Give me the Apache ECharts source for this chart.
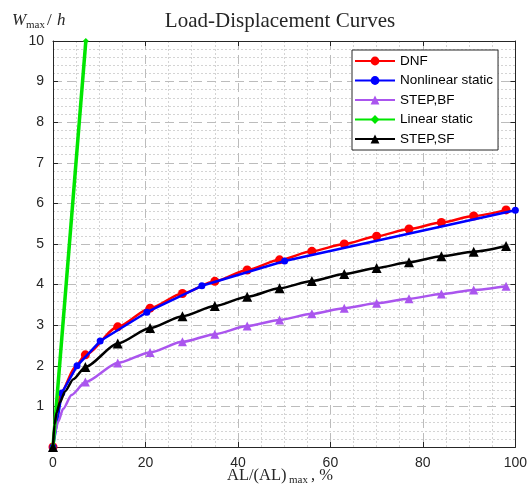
<!DOCTYPE html>
<html><head><meta charset="utf-8">
<script src="https://cdn.jsdelivr.net/npm/echarts@6/dist/echarts.min.js"></script>
<style>html,body{margin:0;padding:0;background:#fff}#c{width:530px;height:493px}</style>
</head><body><div id="c"></div>
<script>
// ---- data ----
const xTicks = [0, 20, 40, 60, 80, 100];
const yTicks = [1, 2, 3, 4, 5, 6, 7, 8, 9, 10];

const dnfX = [0, 7, 14, 21, 28, 35, 42, 49, 56, 63, 70, 77, 84, 91, 98];
const dnfY = [0, 2.27, 2.96, 3.42, 3.78, 4.08, 4.36, 4.61, 4.82, 5.0, 5.19, 5.37, 5.53, 5.69, 5.84];
const dnfPathX = [0.8, 1.9, 4.7];
const dnfPathY = [0.95, 1.37, 1.96];

const nlsX = [0, 1.9, 5.2, 10.2, 20.3, 32.2, 50.1, 100];
const nlsY = [0, 1.33, 2.0, 2.61, 3.32, 3.97, 4.58, 5.83];

const bfX = [0, 7, 14, 21, 28, 35, 42, 49, 56, 63, 70, 77, 84, 91, 98];
const bfY = [0, 1.6, 2.07, 2.33, 2.59, 2.78, 2.98, 3.13, 3.28, 3.42, 3.54, 3.65, 3.77, 3.87, 3.96];
const bfPathX = [0.4, 1.1, 2.2, 4.0];
const bfPathY = [0.35, 0.62, 0.94, 1.28];

const linX = [0, 7.1];
const linY = [0, 10];

const sfX = [0, 7, 14, 21, 28, 35, 42, 49, 56, 63, 70, 77, 84, 91, 98];
const sfY = [0, 1.97, 2.55, 2.93, 3.22, 3.47, 3.7, 3.91, 4.09, 4.26, 4.41, 4.55, 4.7, 4.81, 4.95];
const sfPathX = [0.3, 0.8, 1.5, 2.6, 4.4];
const sfPathY = [0.55, 0.85, 1.1, 1.37, 1.67];

function build(xs, ys, px, py) {
  const pts = xs.map((x, i) => ({ value: [x, ys[i]] }));
  (px || []).forEach((x, i) => pts.push({ value: [x, py[i]], symbol: 'none' }));
  pts.sort((a, b) => a.value[0] - b.value[0]);
  return pts;
}

const chart = echarts.init(document.getElementById('c'), null, { renderer: 'canvas' });
const tickFont = { fontFamily: '"Liberation Sans", Arial', fontSize: 14, color: '#262626' };
const majorSplit = { show: true, lineStyle: { color: '#bcbcbc', width: 1, type: [9, 5] } };
const axLine = { show: true, onZero: false, lineStyle: { color: '#262626', width: 1 } };
const tick = { show: true, inside: true, length: 5, lineStyle: { color: '#262626' } };
const minorC = '#d4d4d4', noC = 'rgba(0,0,0,0)';
const hiddenAxis = { axisLine: { show: false }, axisTick: { show: false }, axisLabel: { show: false } };

chart.setOption({
  animation: false,
  backgroundColor: '#fff',
  grid: { left: 53, right: 14, top: 41, bottom: 46, containLabel: false },
  xAxis: [
    { type: 'value', min: 0, max: 100, interval: 20, position: 'bottom', z: 2,
      axisLine: axLine, axisTick: tick,
      axisLabel: Object.assign({ margin: 9, formatter: v => xTicks.includes(v) ? String(v) : '' }, tickFont),
      splitLine: majorSplit },
    { type: 'value', min: 0, max: 100, interval: 20, position: 'top', z: 2,
      axisLine: axLine, axisTick: tick,
      axisLabel: { show: false }, splitLine: { show: false } },
    Object.assign({ type: 'value', min: 0, max: 100, interval: 5, position: 'bottom', z: 1,
      splitLine: { show: true, lineStyle: { color: [noC, minorC, minorC, minorC], width: 1, type: [2, 2] } } }, hiddenAxis)
  ],
  yAxis: [
    { type: 'value', min: 0, max: 10, interval: 1, position: 'left', z: 2,
      axisLine: axLine, axisTick: tick,
      axisLabel: Object.assign({ margin: 9, formatter: v => yTicks.includes(v) ? String(v) : '' }, tickFont),
      splitLine: majorSplit },
    { type: 'value', min: 0, max: 10, interval: 1, position: 'right', z: 2,
      axisLine: axLine, axisTick: tick,
      axisLabel: { show: false }, splitLine: { show: false } },
    Object.assign({ type: 'value', min: 0, max: 10, interval: 0.2, position: 'left', z: 1,
      splitLine: { show: true, lineStyle: { color: [noC, minorC, minorC, minorC, minorC], width: 1, type: [2, 2] } } }, hiddenAxis)
  ],
  legend: {
    orient: 'vertical', left: 352, top: 50, align: 'left',
    itemWidth: 40, itemHeight: 11, itemGap: 5.5,
    padding: [4, 5, 4, 2],
    backgroundColor: '#fff', borderColor: '#262626', borderWidth: 1, borderRadius: 0,
    textStyle: { fontFamily: '"Liberation Sans", Arial', fontSize: 13.5, color: '#000', lineHeight: 14 },
    data: ['DNF', 'Nonlinear static', 'STEP,BF', 'Linear static', 'STEP,SF']
  },
  series: [
    { name: 'DNF', type: 'line', data: build(dnfX, dnfY, dnfPathX, dnfPathY),
      smooth: 0.25, smoothMonotone: 'x', symbol: 'circle', symbolSize: 9,
      lineStyle: { color: '#ff0000', width: 2.5 }, itemStyle: { color: '#ff0000' }, z: 2 },
    { name: 'Nonlinear static', type: 'line', data: build(nlsX, nlsY),
      symbol: 'circle', symbolSize: 7,
      lineStyle: { color: '#0000ff', width: 2.5 }, itemStyle: { color: '#0000ff' }, z: 3 },
    { name: 'STEP,BF', type: 'line', data: build(bfX, bfY, bfPathX, bfPathY),
      smooth: 0.25, smoothMonotone: 'x', symbol: 'triangle', symbolSize: 9,
      lineStyle: { color: '#aa55ee', width: 2.5 }, itemStyle: { color: '#aa55ee' }, z: 4 },
    { name: 'Linear static', type: 'line', data: build(linX, linY),
      symbol: 'diamond', symbolSize: 6, clip: true,
      lineStyle: { color: '#00e600', width: 3.5 }, itemStyle: { color: '#00e600' }, z: 5 },
    { name: 'STEP,SF', type: 'line', data: build(sfX, sfY, sfPathX, sfPathY),
      smooth: 0.25, smoothMonotone: 'x', symbol: 'triangle', symbolSize: 10,
      lineStyle: { color: '#000000', width: 2.5 }, itemStyle: { color: '#000000' }, z: 6 }
  ],
  graphic: [
    { type: 'text', style: { x: 280, y: 21, text: 'Load-Displacement Curves', textAlign: 'center', textVerticalAlign: 'middle',
      font: '21px "Liberation Serif", serif', fill: '#262626' } },
    { type: 'text', style: { x: 12, y: 29, text: 'W', textAlign: 'left', textVerticalAlign: 'bottom', font: 'italic 17px "Liberation Serif", serif', fill: '#262626' } },
    { type: 'text', style: { x: 26, y: 31, text: 'max', textAlign: 'left', textVerticalAlign: 'bottom', font: '11px "Liberation Serif", serif', fill: '#262626' } },
    { type: 'text', style: { x: 47, y: 29, text: '/', textAlign: 'left', textVerticalAlign: 'bottom', font: '17px "Liberation Serif", serif', fill: '#262626' } },
    { type: 'text', style: { x: 57, y: 29, text: 'h', textAlign: 'left', textVerticalAlign: 'bottom', font: 'italic 17px "Liberation Serif", serif', fill: '#262626' } },
    { type: 'text', style: { x: 227, y: 484, text: 'AL/(AL)', textAlign: 'left', textVerticalAlign: 'bottom', font: '16.5px "Liberation Serif", serif', fill: '#262626' } },
    { type: 'text', style: { x: 289, y: 486, text: 'max', textAlign: 'left', textVerticalAlign: 'bottom', font: '11px "Liberation Serif", serif', fill: '#262626' } },
    { type: 'text', style: { x: 311, y: 484, text: ', %', textAlign: 'left', textVerticalAlign: 'bottom', font: '16.5px "Liberation Serif", serif', fill: '#262626' } }
  ]
});
</script></body></html>
